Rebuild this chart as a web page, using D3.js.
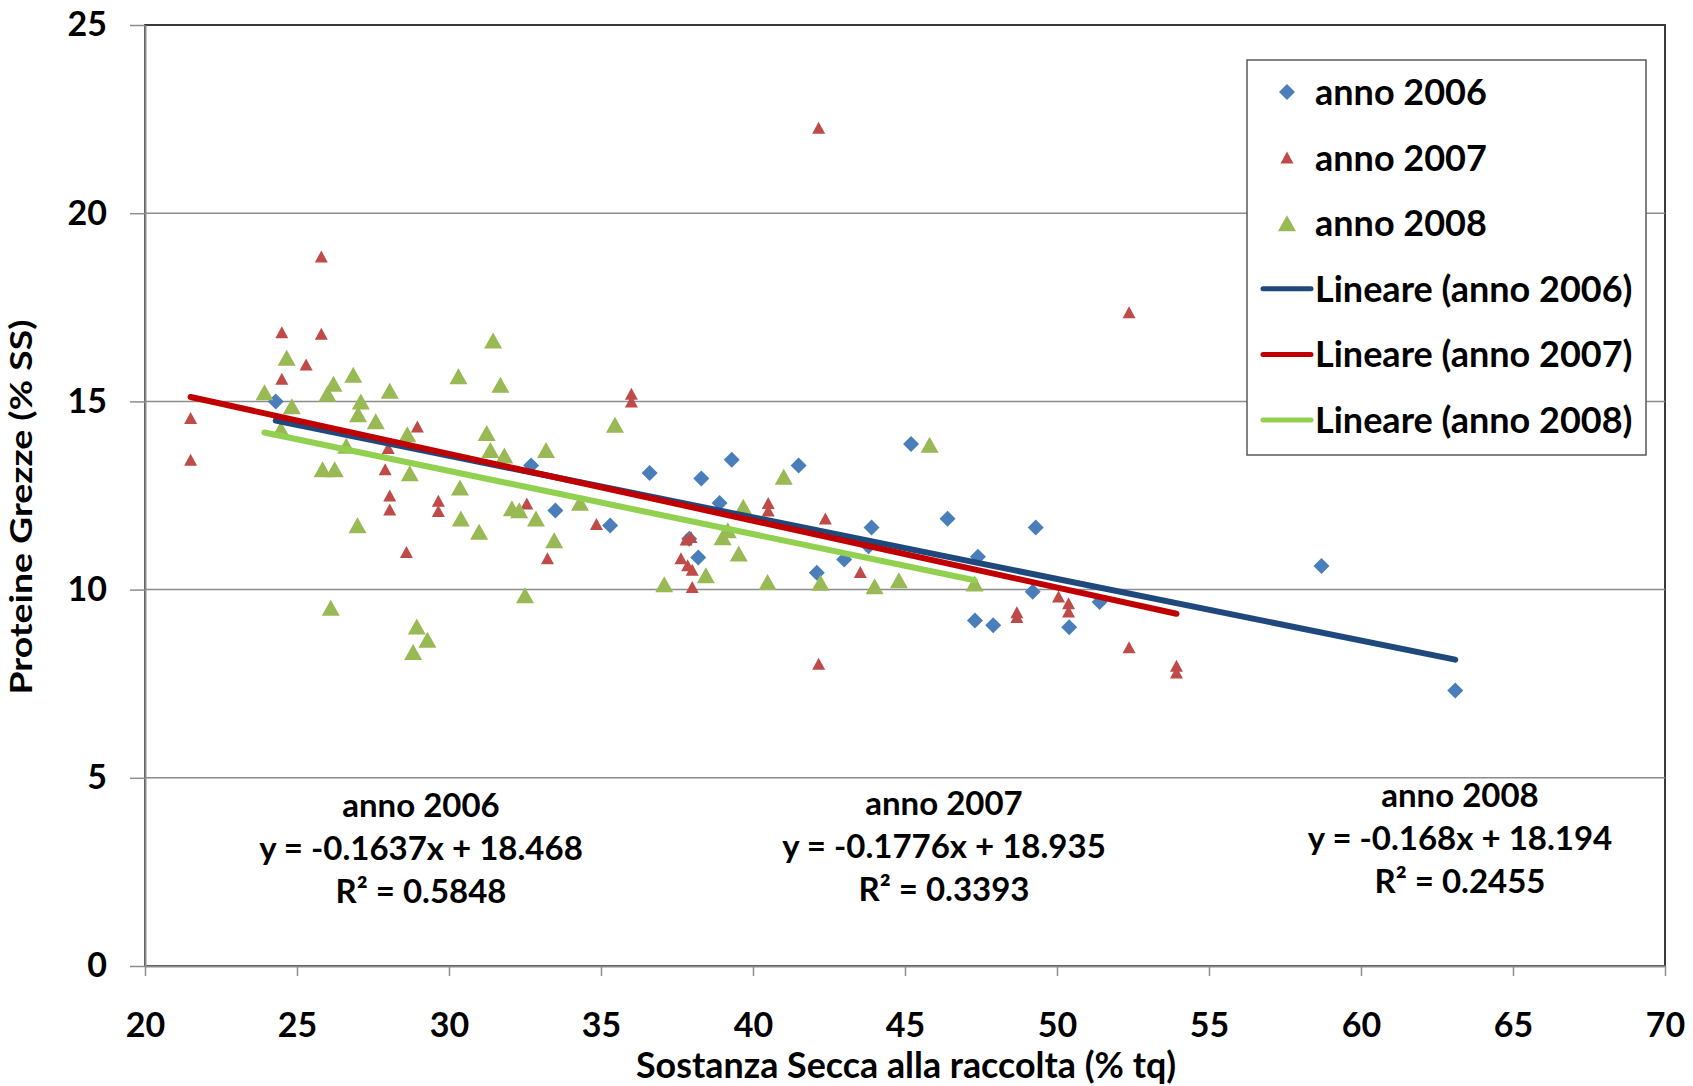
<!DOCTYPE html>
<html lang="it">
<head>
  <meta charset="UTF-8">
  <title>Proteine grezze / sostanza secca</title>
  <style>
    body { margin: 0; background: #fff; }
    text { font-family: Lato, "Open Sans", sans-serif; fill: #000; }
  </style>
</head>
<body>
  <svg id="chart" width="1693" height="1086"></svg>

  <script src="https://d3js.org/d3.v7.min.js"></script>
  <script>
  // [sostanza secca %, proteine grezze %]
  var anno2006 = [
    [24.3, 15.0], [32.7, 13.3], [33.5, 12.1], [35.3, 11.7], [36.6, 13.1],
    [37.9, 11.35], [38.2, 10.85], [38.3, 12.95], [38.9, 12.3], [39.3, 13.45],
    [41.5, 13.3], [42.1, 10.45], [43.0, 10.8], [43.8, 11.15], [43.9, 11.65],
    [45.2, 13.87], [46.4, 11.88], [47.4, 10.87], [47.3, 9.18], [47.9, 9.05],
    [49.2, 9.94], [49.3, 11.65], [50.4, 9.0], [51.4, 9.67], [58.7, 10.63],
    [63.1, 7.32]
  ];

  var anno2007 = [
    [21.5, 14.56], [21.5, 13.45], [24.5, 16.84], [24.5, 15.6], [25.3, 15.98],
    [25.8, 18.85], [25.8, 16.8], [28.0, 13.76], [27.9, 13.2], [28.05, 12.5],
    [28.05, 12.13], [28.6, 11.0], [28.96, 14.33], [29.65, 12.36], [29.65, 12.09],
    [32.56, 12.29], [33.24, 10.83], [34.85, 11.74], [36.0, 15.2], [36.0, 15.0],
    [37.8, 11.33], [37.96, 11.4], [37.63, 10.83], [37.85, 10.65], [38.0, 10.53],
    [38.0, 10.07], [40.5, 12.3], [40.5, 12.1], [42.16, 22.27], [42.38, 11.89],
    [42.16, 8.03], [43.53, 10.47], [48.68, 9.4], [48.68, 9.27], [50.05, 9.82],
    [50.38, 9.64], [50.38, 9.42], [52.37, 17.37], [52.37, 8.47], [53.93, 7.98],
    [53.93, 7.8]
  ];

  var anno2008 = [
    [23.93, 15.24], [24.47, 14.26], [24.66, 16.16], [24.83, 14.87], [25.84, 13.2],
    [26.0, 15.2], [26.11, 9.52], [26.2, 15.47], [26.24, 13.2], [26.62, 13.82],
    [26.85, 15.71], [26.99, 11.71], [27.01, 14.66], [27.1, 15.0], [27.59, 14.47],
    [28.05, 15.28], [28.63, 14.13], [28.71, 13.09], [28.82, 8.34], [28.94, 9.02],
    [29.29, 8.67], [30.31, 15.67], [30.36, 12.71], [30.39, 11.89], [30.99, 11.54],
    [31.24, 14.16], [31.36, 13.71], [31.45, 16.62], [31.69, 15.44], [31.82, 13.56],
    [32.07, 12.16], [32.31, 12.11], [32.5, 9.85], [32.86, 11.89], [33.19, 13.71],
    [33.46, 11.31], [34.31, 12.31], [35.46, 14.38], [37.08, 10.14], [38.45, 10.38],
    [39.0, 11.39], [39.17, 11.58], [39.53, 10.96], [39.68, 12.2], [40.48, 10.2],
    [41.01, 13.0], [42.22, 10.18], [44.0, 10.09], [44.8, 10.25], [45.81, 13.85],
    [47.29, 10.16]
  ];

  var seriesNames = ['anno 2006', 'anno 2007', 'anno 2008'];
  var trendSlopes = [-0.1637, -0.1776, -0.168];
  var trendIntercepts = [18.468, 18.935, 18.194];
  var rSquared = ['0.5848', '0.3393', '0.2455'];

  var xTicks = [20, 25, 30, 35, 40, 45, 50, 55, 60, 65, 70];
  var yTicks = [0, 5, 10, 15, 20, 25];

  var xTitle = 'Sostanza Secca alla raccolta (% tq)';
  var yTitle = 'Proteine Grezze (% SS)';

  // ---- layout / style ----
  var plotL = 145, plotR = 1665, plotT = 25, plotB = 966;
  var markerColors = ['#4a7ebb', '#be4b48', '#98b954'];
  var lineColors = ['#1f497d', '#c00000', '#92d050'];
  var markerKind = ['diamond', 'small', 'big'];

  var svg = d3.select('#chart');

  var x = d3.scaleLinear().domain([20, 70]).range([plotL, plotR]);
  var y = d3.scaleLinear().domain([0, 25]).range([plotB, plotT]);

  var shape = function (kind) {
    if (kind === 'diamond') { return 'M0,-8L8,0L0,8L-8,0Z'; }
    if (kind === 'small') { return 'M0,-6L6.5,6L-6.5,6Z'; }
    return 'M0,-8L9,8L-9,8Z';
  };

  // plot frame
  svg.append('rect')
    .attr('x', plotL).attr('y', plotT)
    .attr('width', plotR - plotL).attr('height', plotB - plotT)
    .attr('fill', '#fff').attr('stroke', '#3a3a3a').attr('stroke-width', 2);

  // horizontal grid
  svg.append('g').selectAll('line')
    .data(yTicks.filter(function (d) { return d > 0 && d < 25; }))
    .enter()
    .append('line')
    .attr('x1', plotL).attr('x2', plotR)
    .attr('y1', function (d) { return y(d); })
    .attr('y2', function (d) { return y(d); })
    .attr('stroke', '#8c8c8c').attr('stroke-width', 1.5);

  // axes
  var xAxis = svg.append('g')
    .attr('transform', 'translate(0,' + plotB + ')')
    .call(d3.axisBottom(x).tickValues(xTicks).tickSize(10).tickPadding(37).tickSizeOuter(0));
  var yAxis = svg.append('g')
    .attr('transform', 'translate(' + plotL + ',0)')
    .call(d3.axisLeft(y).tickValues(yTicks).tickSize(15).tickPadding(23).tickSizeOuter(0));

  [xAxis, yAxis].forEach(function (ax) {
    ax.select('.domain').attr('stroke', '#8c8c8c').attr('stroke-width', 2);
    ax.selectAll('.tick line').attr('stroke', '#8c8c8c').attr('stroke-width', 1.5);
    ax.selectAll('.tick text')
      .attr('fill', '#000')
      .style('font-family', 'Lato, sans-serif')
      .style('font-size', '34px')
      .style('font-weight', 'bold');
  });

  // axis titles
  svg.append('text')
    .attr('x', 906).attr('y', 1078)
    .attr('text-anchor', 'middle')
    .style('font-size', '36px')
    .style('font-weight', 'bold')
    .text(xTitle)
    .attr('textLength', 540).attr('lengthAdjust', 'spacingAndGlyphs');

  svg.append('text')
    .attr('transform', 'translate(32,507) rotate(-90)')
    .attr('text-anchor', 'middle')
    .style('font-size', '30px')
    .style('font-weight', 'bold')
    .text(yTitle)
    .attr('textLength', 375).attr('lengthAdjust', 'spacingAndGlyphs');

  // points
  var allSeries = [anno2006, anno2007, anno2008];
  allSeries.forEach(function (data, i) {
    svg.append('g').selectAll('path')
      .data(data)
      .enter()
      .append('path')
      .attr('d', shape(markerKind[i]))
      .attr('transform', function (d) { return 'translate(' + x(d[0]) + ',' + y(d[1]) + ')'; })
      .attr('fill', markerColors[i]);
  });

  // linear trend lines over each year's range
  allSeries.forEach(function (data, i) {
    var ext = d3.extent(data, function (d) { return d[0]; });
    var pts = ext.map(function (v) { return [v, trendSlopes[i] * v + trendIntercepts[i]]; });
    svg.append('path')
      .datum(pts)
      .attr('d', d3.line()
        .x(function (d) { return x(d[0]); })
        .y(function (d) { return y(d[1]); }))
      .attr('fill', 'none')
      .attr('stroke', lineColors[i])
      .attr('stroke-width', 6)
      .attr('stroke-linecap', 'round');
  });

  // equation labels
  var labelX = [421, 944, 1460];
  var labelY = [817, 815, 807];
  seriesNames.forEach(function (name, i) {
    var lines = [
      name,
      'y = ' + trendSlopes[i] + 'x + ' + trendIntercepts[i],
      'R\u00b2 = ' + rSquared[i]
    ];
    svg.append('g').selectAll('text')
      .data(lines)
      .enter()
      .append('text')
      .attr('x', labelX[i])
      .attr('y', function (d, j) { return labelY[i] + j * 43; })
      .attr('text-anchor', 'middle')
      .style('font-size', '33px')
      .style('font-weight', 'bold')
      .text(function (d) { return d; });
  });

  // legend
  var legend = svg.append('g');
  legend.append('rect')
    .attr('x', 1247).attr('y', 60).attr('width', 399).attr('height', 395)
    .attr('fill', '#fff').attr('stroke', '#595959').attr('stroke-width', 1.5);

  var legendItems = seriesNames.map(function (n, i) { return { label: n, i: i, line: false }; })
    .concat(seriesNames.map(function (n, i) { return { label: 'Lineare (' + n + ')', i: i, line: true }; }));

  var item = legend.selectAll('g.item')
    .data(legendItems)
    .enter()
    .append('g')
    .attr('class', 'item')
    .attr('transform', function (d, k) { return 'translate(0,' + (92 + k * 65.6) + ')'; });

  item.filter(function (d) { return !d.line; })
    .append('path')
    .attr('d', function (d) { return shape(markerKind[d.i]); })
    .attr('transform', 'translate(1287,0)')
    .attr('fill', function (d) { return markerColors[d.i]; });

  item.filter(function (d) { return d.line; })
    .append('line')
    .attr('x1', 1263).attr('x2', 1311)
    .attr('stroke', function (d) { return lineColors[d.i]; })
    .attr('stroke-width', 5)
    .attr('stroke-linecap', 'round');

  item.append('text')
    .attr('x', 1315)
    .attr('dy', '0.36em')
    .style('font-size', '36px')
    .style('font-weight', 'bold')
    .text(function (d) { return d.label; });
  </script>
</body>
</html>
